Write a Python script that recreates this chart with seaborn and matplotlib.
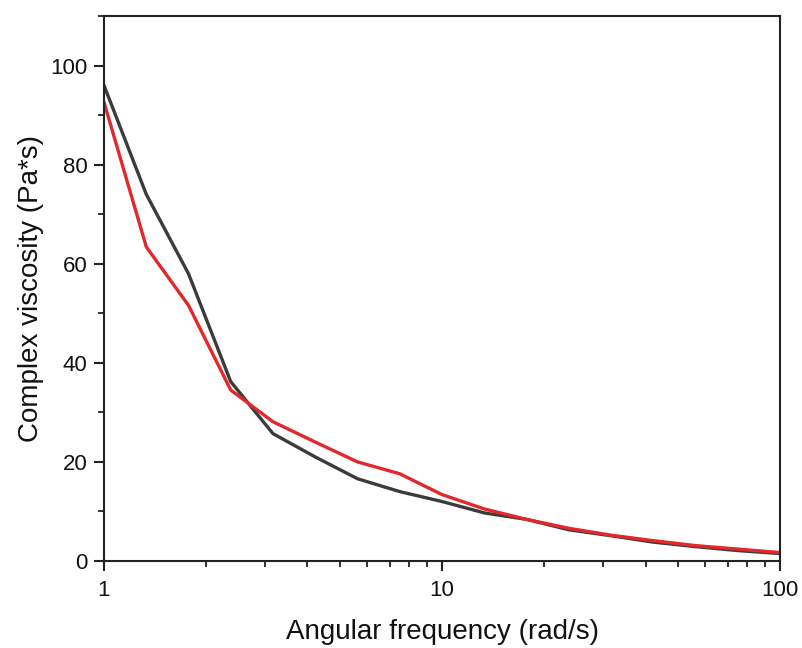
import numpy as np
import pandas as pd
import matplotlib
matplotlib.use("Agg")
import matplotlib.pyplot as plt
import matplotlib.ticker as mticker
import seaborn as sns

# angular frequency (rad/s), 8 points per decade
freq = [1.0, 1.334, 1.778, 2.371, 3.162, 4.217, 5.623, 7.499, 10.0,
        13.34, 17.78, 23.71, 31.62, 42.17, 56.23, 74.99, 100.0]
visc_black = [96.0, 74.0, 58.0, 36.2, 25.7, 21.0, 16.6, 14.0, 12.0,
              9.7, 8.4, 6.3, 5.1, 3.8, 2.9, 2.1, 1.5]
visc_red = [92.6, 63.4, 51.6, 34.5, 28.1, 24.0, 20.0, 17.6, 13.4,
            10.5, 8.4, 6.6, 5.2, 4.1, 3.1, 2.4, 1.7]

df = pd.DataFrame({
    "freq": freq * 2,
    "visc": visc_black + visc_red,
    "sample": ["A"] * len(freq) + ["B"] * len(freq),
})

sns.set_style("ticks")
plt.rcParams['font.family'] = ['Liberation Sans', 'DejaVu Sans']

fig = plt.figure(figsize=(8.03, 6.48), dpi=100)
ax = fig.add_axes([0.1295, 0.1343, 0.8419, 0.841])

sns.lineplot(data=df, x="freq", y="visc", hue="sample",
             palette={"A": "#3b3b3b", "B": "#e3282d"},
             linewidth=2.4, legend=False, ax=ax)

ax.set_xscale("log")
ax.set_xlim(1, 100)
ax.set_ylim(0, 110)
ax.xaxis.set_major_locator(mticker.FixedLocator([1, 10, 100]))
ax.xaxis.set_major_formatter(mticker.FixedFormatter(["1", "10", "100"]))
ax.xaxis.set_minor_locator(mticker.LogLocator(base=10, subs=np.arange(2, 10)))
ax.xaxis.set_minor_formatter(mticker.NullFormatter())
ax.yaxis.set_major_locator(mticker.MultipleLocator(20))
ax.yaxis.set_minor_locator(mticker.MultipleLocator(10))

for side in ["top", "right", "bottom", "left"]:
    ax.spines[side].set_visible(True)
    ax.spines[side].set_linewidth(1.5)
    ax.spines[side].set_color("#222222")

ax.tick_params(which="major", direction="out", length=7, width=1.5,
               labelsize=16, pad=5, colors="#222222", labelcolor="#111111")
ax.tick_params(axis="x", which="major", pad=6.5)
ax.tick_params(which="minor", direction="out", length=4, width=1.3, colors="#222222")
ax.tick_params(top=False, right=False, which="both")

ax.set_xlabel("Angular frequency (rad/s)", fontsize=20, labelpad=13.5, color="#111111")
ax.set_ylabel("Complex viscosity (Pa*s)", fontsize=20, labelpad=4.5, color="#111111")

plt.savefig("out.png", dpi=100)
